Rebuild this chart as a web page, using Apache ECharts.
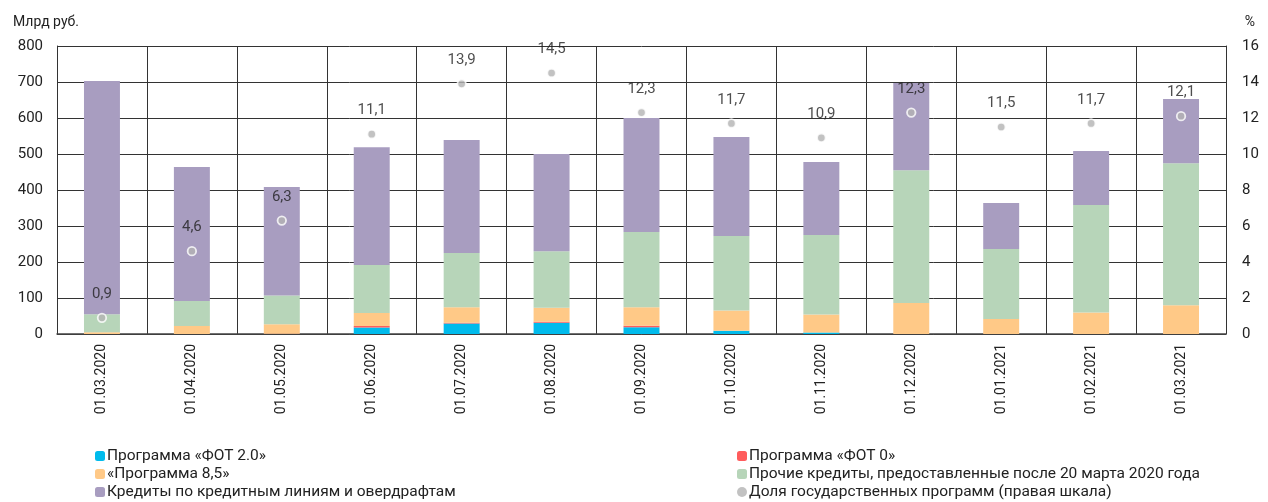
<!DOCTYPE html>
<html>
<head>
<meta charset="utf-8">
<script src="https://cdn.jsdelivr.net/npm/echarts@6/dist/echarts.min.js"></script>
<style>
  html, body { margin: 0; padding: 0; background: #fff; }
  #chart { width: 1268px; height: 502px; }
</style>
</head>
<body>
<div id="chart"></div>
<script>
const categories = ['01.03.2020', '01.04.2020', '01.05.2020', '01.06.2020', '01.07.2020', '01.08.2020',
    '01.09.2020', '01.10.2020', '01.11.2020', '01.12.2020', '01.01.2021', '01.02.2021', '01.03.2021'];

// млрд руб., сегменты стека
const fot20 = [0, 0, 0, 18, 29, 31, 19, 9, 4, 0, 0, 0, 0];
const fot0 = [0, 0, 1, 4, 2, 3, 4, 0, 0, 0, 0, 0, 0];
const prog85 = [5, 22, 26, 36, 43, 39, 51, 56, 50, 86, 42, 60, 80];
const otherLoans = [50, 70, 80, 134, 151, 157, 209, 207, 221, 369, 194, 298, 394];
const creditLines = [648, 372, 301, 327, 314, 270, 317, 275, 203, 242, 128, 150, 179];

// %, правая шкала
const govShare = [0.9, 4.6, 6.3, 11.1, 13.9, 14.5, 12.3, 11.7, 10.9, 12.3, 11.5, 11.7, 12.1];

const leftTicks = [0, 800, 100];
const rightTicks = [0, 16, 2];

const FONT = 'Roboto';
const TEXT = '#222';

const chart = echarts.init(document.getElementById('chart'));

function barSeries(name, data, color) {
    return {
        name: name,
        type: 'bar',
        stack: 'total',
        data: data,
        barWidth: '40%',
        itemStyle: { color: color },
        emphasis: { disabled: true }
    };
}

const legendText = { fontFamily: FONT, fontSize: 15.5, lineHeight: 16, color: TEXT, padding: [0, 0, 0, -3] };

const option = {
    animation: false,
    textStyle: { fontFamily: FONT, color: TEXT },
    title: [
        { text: 'Млрд руб.', left: 8, top: 10, textStyle: { fontFamily: FONT, fontSize: 14, fontWeight: 'normal', color: TEXT } },
        { text: '%', right: 8, top: 10, textStyle: { fontFamily: FONT, fontSize: 14, fontWeight: 'normal', color: TEXT } }
    ],
    legend: [
        {
            orient: 'vertical', left: 90, top: 443, height: 80, itemGap: 2, itemWidth: 10, itemHeight: 10,
            textStyle: legendText,
            data: ['Программа «ФОТ 2.0»', '«Программа 8,5»', 'Кредиты по кредитным линиям и овердрафтам']
        },
        {
            orient: 'vertical', left: 732, top: 443, height: 80, itemGap: 2, itemWidth: 10, itemHeight: 10,
            textStyle: legendText,
            data: ['Программа «ФОТ 0»', 'Прочие кредиты, предоставленные после 20 марта 2020 года',
                { name: 'Доля государственных программ (правая шкала)', icon: 'circle', itemStyle: { borderWidth: 0 } }]
        }
    ],
    grid: { left: 57, right: 42, top: 46, bottom: 168 },
    xAxis: {
        type: 'category',
        data: categories,
        boundaryGap: true,
        axisLine: { lineStyle: { color: '#444', width: 1.5 } },
        axisTick: { show: false },
        axisLabel: { rotate: 90, margin: 10, fontSize: 14, color: TEXT, fontFamily: FONT },
        splitLine: { show: true, lineStyle: { color: '#333', width: 1 } }
    },
    yAxis: [
        {
            type: 'value',
            min: leftTicks[0], max: leftTicks[1], interval: leftTicks[2],
            axisLine: { show: true, lineStyle: { color: '#333' } },
            axisTick: { show: false },
            axisLabel: { fontSize: 15, color: TEXT, margin: 14, fontFamily: FONT },
            splitLine: { lineStyle: { color: '#333', width: 1 } }
        },
        {
            type: 'value',
            min: rightTicks[0], max: rightTicks[1], interval: rightTicks[2],
            axisLine: { show: true, lineStyle: { color: '#333' } },
            axisTick: { show: false },
            axisLabel: { fontSize: 15, color: TEXT, margin: 16, fontFamily: FONT },
            splitLine: { show: false }
        }
    ],
    series: [
        barSeries('Программа «ФОТ 2.0»', fot20, '#00bbec'),
        barSeries('Программа «ФОТ 0»', fot0, '#ff5c5c'),
        barSeries('«Программа 8,5»', prog85, '#ffc987'),
        barSeries('Прочие кредиты, предоставленные после 20 марта 2020 года', otherLoans, '#b7d5b9'),
        barSeries('Кредиты по кредитным линиям и овердрафтам', creditLines, '#a89dc0'),
        {
            name: 'Доля государственных программ (правая шкала)',
            type: 'scatter',
            yAxisIndex: 1,
            data: govShare,
            symbolSize: 8.5,
            z: 5,
            itemStyle: { color: '#b3b3b3', borderColor: '#fff', borderWidth: 1.8 },
            label: {
                show: true,
                position: 'top',
                distance: 11,
                fontSize: 15,
                color: TEXT,
                fontFamily: FONT,
                formatter: p => String(p.value).replace('.', ',')
            }
        }
    ]
};

chart.setOption(option);
</script>
</body>
</html>
